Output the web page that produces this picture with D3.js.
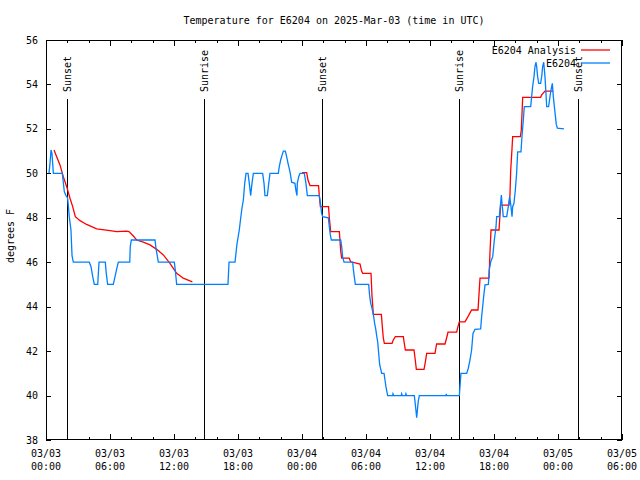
<!DOCTYPE html>
<html><head><meta charset="utf-8">
<script src="https://cdn.jsdelivr.net/npm/d3@7"></script>
<style>body{margin:0;background:#fff}svg{display:block}text{font-family:"DejaVu Sans Mono",monospace;font-size:10px;fill:#000}</style>
</head><body>
<script>
// ---- data ----
const titleText = "Temperature for E6204 on 2025-Mar-03 (time in UTC)";
const yLabel = "degrees F";
const xStart = new Date(Date.UTC(2025,2,3,0,0));
const xEnd = new Date(Date.UTC(2025,2,5,6,0));
const yTicks = [38,40,42,44,46,48,50,52,54,56];
const sunHours = [1.97, 14.81, 25.87, 38.72, 49.87];
const sunLabels = ["Sunset","Sunrise","Sunset","Sunrise","Sunset"];
const seriesNames = ["E6204 Analysis","E6204"];
// observations (hours after 03/03 00:00 UTC, deg F)
const obsHours = [0.28,0.375,0.47,0.56,0.69,1.53,1.62,1.72,1.875,2.02,2.09,2.18,2.34,2.44,2.56,4.06,4.22,4.38,4.53,4.85,4.97,5.56,5.65,5.78,6.31,6.47,6.63,6.78,7.85,7.9,8.0,10.22,10.31,10.53,12.03,12.12,12.25,
17.06,17.16,17.72,17.9,18.12,18.25,18.37,18.5,18.63,18.75,18.94,19.06,19.19,19.31,19.44,20.31,20.44,20.53,20.75,20.88,21.0,21.78,21.87,22.0,22.12,22.25,22.44,22.56,22.69,22.81,22.9,23.03,23.34,23.44,23.53,23.56,23.69,23.81,24.22,24.37,24.5,25.62,25.72,25.84,25.94,26.47,26.56,26.65,26.75,27.63,27.72,27.81,27.94,28.75,28.81,28.9,29.0,30.25,30.34,30.44,30.53,30.62,30.72,30.81,30.91,31.0,31.1,31.19,31.28,31.47,31.69,31.78,31.87,32.03,32.5,32.53,32.6,33.3,33.34,33.4,33.7,33.74,33.8,34.53,34.59,34.69,34.75,34.81,34.9,35.0,37.5,37.53,37.56,38.75,38.81,38.9,39.44,39.59,39.75,39.9,40.03,40.22,40.75,40.84,40.94,41.03,41.16,41.47,41.56,41.69,41.88,42.03,42.19,42.25,42.5,42.62,42.69,42.75,42.87,43.19,43.34,43.47,43.56,43.69,43.75,43.87,44.0,44.12,44.22,44.53,44.62,44.75,44.84,45.44,45.53,45.62,45.75,45.84,45.94,46.0,46.09,46.19,46.37,46.47,46.56,46.66,46.78,46.87,46.94,47.12,47.25,47.34,47.47,47.56,47.66,47.75,47.84,47.94,48.56];
const obsTemps = [50.0,50.45,51.05,50.9,50.0,50.0,49.6,49.17,49.0,48.9,48.57,48.05,47.45,46.3,46.0,46.0,45.8,45.35,45.0,45.0,46.0,46.0,45.5,45.0,45.0,45.35,45.7,46.0,46.0,46.7,47.0,47.0,46.63,46.0,46.0,45.65,45.0,
45.0,46.0,46.0,46.8,47.45,47.98,48.43,48.8,49.55,50.0,50.0,49.55,49.0,49.55,50.0,50.0,49.55,49.0,49.0,49.55,50.0,50.0,50.3,50.6,50.8,51.0,51.0,50.75,50.45,50.2,50.0,49.6,49.55,49.2,49.0,49.55,49.85,50.0,50.0,49.55,49.0,49.0,48.7,48.2,48.05,48.0,47.6,47.25,47.0,47.0,46.7,46.25,46.0,46.0,45.7,45.35,45.0,45.0,44.5,44.15,44.0,43.8,43.55,43.25,43.0,42.7,42.4,41.9,41.4,41.0,41.0,40.7,40.4,40.0,40.0,40.08,40.0,40.0,40.08,40.0,40.0,40.08,40.0,40.0,39.75,39.3,39.0,39.3,39.75,40.0,40.0,40.08,40.0,40.0,40.4,41.0,41.0,41.23,41.6,42.05,42.8,42.98,43.0,43.55,44.0,44.45,44.98,45.0,45.65,46.02,46.25,47.0,47.6,48.05,48.05,48.65,49.02,48.65,48.05,48.05,48.5,48.95,48.65,48.05,48.5,48.65,49.25,50.0,50.97,50.97,51.65,52.4,53.0,53.0,53.45,53.9,54.35,54.8,55.0,54.8,54.35,54.05,54.05,54.35,54.8,55.0,54.35,53.6,53.0,53.0,53.45,53.75,54.05,53.45,53.0,52.6,52.2,52.03,52.0];
// analysis (null = gap)
const anaHours = [0.75,1.0,1.31,1.62,1.94,2.25,2.5,2.75,3.19,3.81,4.75,6.0,6.63,7.56,7.78,8.19,8.5,9.12,9.75,10.38,11.0,11.62,12.25,12.87,13.72,13.8,
24.0,24.44,24.56,24.75,25.55,25.62,25.72,26.49,26.56,26.69,27.5,27.63,27.72,28.43,28.56,29.44,29.59,29.69,30.47,30.56,30.69,31.44,31.53,31.62,31.72,32.44,32.56,32.75,33.5,33.59,33.69,34.5,34.62,34.72,35.44,35.56,35.69,36.47,36.62,37.41,37.56,37.69,38.5,38.62,38.75,39.28,39.56,39.9,40.5,40.69,41.53,41.62,41.72,42.47,42.62,43.41,43.5,43.56,43.69,43.75,44.47,44.56,44.69,46.37,46.47,46.78,47.56];
const anaTemps = [51.05,50.75,50.38,49.85,49.4,48.88,48.5,48.05,47.87,47.7,47.5,47.42,47.38,47.4,47.38,47.18,47.0,46.9,46.78,46.58,46.33,45.95,45.5,45.28,45.12,null,
50.03,50.03,49.7,49.45,49.45,49.0,48.5,48.5,48.0,47.38,47.38,46.5,46.18,46.18,46.02,45.92,45.6,45.5,45.5,44.5,43.65,43.65,43.1,42.6,42.35,42.35,42.5,42.65,42.65,42.35,42.05,42.05,41.6,41.18,41.18,41.5,41.9,41.9,42.32,42.32,42.6,42.85,42.85,43.1,43.32,43.32,43.55,43.85,43.85,45.28,45.28,46.4,47.45,47.45,48.57,48.57,49.07,50.08,51.13,51.65,51.65,51.95,53.42,53.42,53.53,53.7,53.7];

// ---- chart ----
const W=640,H=480, m={l:46,t:40,r:18,b:40};
const svg=d3.select("body").append("svg").attr("width",W).attr("height",H);
const x=d3.scaleUtc().domain([xStart,xEnd]).range([m.l,W-m.r]);
const y=d3.scaleLinear().domain([38,56]).range([H-m.b,m.t]);
const hr=h=>new Date(xStart.getTime()+h*3600000);

svg.append("text").attr("x",(m.l+W-m.r)/2).attr("y",24).attr("text-anchor","middle").text(titleText);
svg.append("text").attr("transform",`translate(14,${(m.t+H-m.b)/2-4}) rotate(-90)`).attr("text-anchor","middle").text(yLabel);

// axes (ticks inward, mirrored)
const g=svg.append("g");
const minor=d3.utcHour.every(2).range(xStart,new Date(xEnd.getTime()+1));
const major=d3.utcHour.every(6).range(xStart,new Date(xEnd.getTime()+1));
g.append("g").attr("transform",`translate(0,${H-m.b})`).call(d3.axisTop(x).tickValues(minor).tickSize(3).tickFormat(""));
g.append("g").attr("transform",`translate(0,${m.t})`).call(d3.axisBottom(x).tickValues(minor).tickSize(3).tickFormat(""));
g.append("g").attr("transform",`translate(0,${H-m.b})`).call(d3.axisTop(x).tickValues(major).tickSize(6).tickFormat(""));
g.append("g").attr("transform",`translate(0,${m.t})`).call(d3.axisBottom(x).tickValues(major).tickSize(6).tickFormat(""));
g.append("g").attr("transform",`translate(${m.l},0)`).call(d3.axisRight(y).tickValues(yTicks).tickSize(5).tickFormat(""));
g.append("g").attr("transform",`translate(${W-m.r},0)`).call(d3.axisLeft(y).tickValues(yTicks).tickSize(5).tickFormat(""));
g.selectAll(".domain").remove();
g.selectAll("line").attr("stroke","#000").attr("shape-rendering","crispEdges");

// y tick labels
svg.append("g").selectAll("text").data(yTicks).join("text")
 .attr("x",m.l-8).attr("y",d=>y(d)).attr("dy","0.35em").attr("text-anchor","end").text(d=>d);
// x tick labels
const fD=d3.utcFormat("%m/%d"), fT=d3.utcFormat("%H:%M");
const xl=svg.append("g").selectAll("g").data(major).join("g").attr("transform",d=>`translate(${x(d)},0)`);
xl.append("text").attr("y",457).attr("text-anchor","middle").text(fD);
xl.append("text").attr("y",470).attr("text-anchor","middle").text(fT);

// sun lines
const sl=svg.append("g").selectAll("g").data(sunHours).join("g");
sl.append("line").attr("x1",d=>Math.round(x(hr(d)))+0.5).attr("x2",d=>Math.round(x(hr(d)))+0.5)
 .attr("y1",99).attr("y2",H-m.b).attr("stroke","#000");
sl.append("text").attr("transform",d=>`translate(${x(hr(d))+4},92) rotate(-90)`).text((d,i)=>sunLabels[i]);

// series
const obs=obsHours.map((h,i)=>({h,t:obsTemps[i]}));
const ana=anaHours.map((h,i)=>({h,t:anaTemps[i]}));
const line=d3.line().defined(d=>d.t!=null).x(d=>x(hr(d.h))).y(d=>y(d.t));
svg.append("path").datum(ana).attr("d",line).attr("fill","none").attr("stroke","#ff0000").attr("stroke-width",1.3);
svg.append("path").datum(obs).attr("d",line).attr("fill","none").attr("stroke","#0080ff").attr("stroke-width",1.3);

// border
svg.append("rect").attr("x",m.l+0.5).attr("y",m.t+0.5).attr("width",W-m.l-m.r-1).attr("height",H-m.t-m.b-1)
 .attr("fill","none").attr("stroke","#000").attr("shape-rendering","crispEdges");

// legend
const lg=svg.append("g").selectAll("g").data(seriesNames).join("g").attr("transform",(d,i)=>`translate(0,${50+i*13})`);
lg.append("text").attr("x",576).attr("dy","0.35em").attr("text-anchor","end").text(d=>d);
lg.append("line").attr("x1",581).attr("x2",610).attr("stroke",(d,i)=>i?"#0080ff":"#ff0000").attr("stroke-width",1.3);
</script>
</body></html>
